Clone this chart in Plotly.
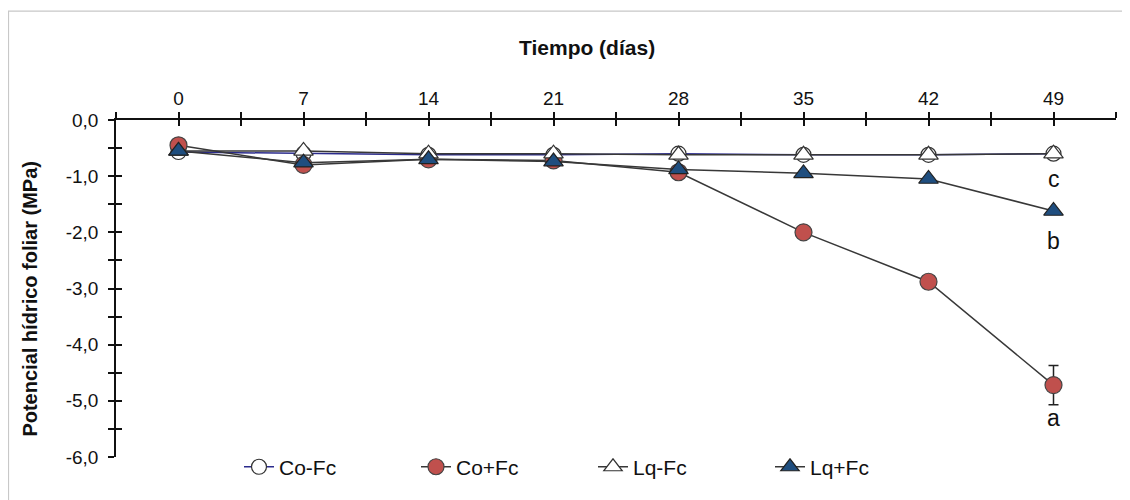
import plotly.graph_objects as go

days = [0, 7, 14, 21, 28, 35, 42, 49]
co_fc = [-0.57, -0.6, -0.62, -0.62, -0.6, -0.62, -0.62, -0.6]
co_pfc = [-0.45, -0.8, -0.7, -0.72, -0.93, -2.0, -2.88, -4.72]
co_pfc_err = [None, None, None, None, None, None, None, 0.35]
lq_fc = [-0.55, -0.55, -0.6, -0.6, -0.62, -0.62, -0.62, -0.6]
lq_pfc = [-0.55, -0.76, -0.7, -0.74, -0.88, -0.95, -1.05, -1.62]
letters = ["c", "b", "a"]
letter_y = [-1.05, -2.15, -5.3]

x_tickvals = [i * 3.5 for i in range(-1, 16)]
x_ticktext = [str(int(v)) if v >= 0 and v % 7 == 0 else "" for v in x_tickvals]
y_tickvals = [i * 0.5 for i in range(0, -13, -1)]
y_ticktext = [(f"{v:.1f}".replace(".", ",") if v % 1 == 0 else "") for v in y_tickvals]

FONT = "Liberation Sans, Arial, sans-serif"
LINE = "#383838"

fig = go.Figure()
fig.add_trace(go.Scatter(x=days, y=co_fc, name="Co-Fc", mode="lines+markers",
                         line=dict(color="#2b2b8c", width=1.5),
                         marker=dict(symbol="circle", size=15, color="white",
                                     line=dict(color="#333333", width=1.2))))
fig.add_trace(go.Scatter(x=days, y=co_pfc, name="Co+Fc", mode="lines+markers",
                         line=dict(color=LINE, width=1.5),
                         error_y=dict(type="data", array=co_pfc_err, visible=True,
                                      color="#222222", thickness=1.5, width=5),
                         marker=dict(symbol="circle", size=17, color="#c0504d",
                                     line=dict(color="#444444", width=1.2))))
fig.add_trace(go.Scatter(x=days, y=lq_fc, name="Lq-Fc", mode="lines+markers",
                         line=dict(color=LINE, width=1.5),
                         marker=dict(symbol="triangle-up", size=17, color="white",
                                     line=dict(color="#333333", width=1.2))))
fig.add_trace(go.Scatter(x=days, y=lq_pfc, name="Lq+Fc", mode="lines+markers",
                         line=dict(color=LINE, width=1.5),
                         marker=dict(symbol="triangle-up", size=17, color="#1f4e7f",
                                     line=dict(color="#222222", width=1.2))))
# invisible trace for secondary axes (inner tick halves)
fig.add_trace(go.Scatter(x=[days[0]], y=[co_fc[0]], xaxis="x2", yaxis="y2",
                         mode="markers", marker=dict(opacity=0), showlegend=False,
                         hoverinfo="skip"))

for t, yv in zip(letters, letter_y):
    fig.add_annotation(x=days[-1], y=yv, text=t, showarrow=False,
                       font=dict(family=FONT, size=23, color="#111111"))

fig.add_annotation(xref="paper", yref="paper", x=0.471, y=1.2166, xanchor="center",
                   yanchor="middle", text="<b>Tiempo (días)</b>",
                   showarrow=False, font=dict(family=FONT, size=21, color="#111111"))
fig.add_annotation(xref="paper", yref="paper", x=-0.086, y=0.47, xanchor="center",
                   yanchor="middle", text="<b>Potencial hídrico foliar (MPa)</b>",
                   textangle=-90, showarrow=False,
                   font=dict(family=FONT, size=20, color="#111111"))

fig.add_shape(type="rect", xref="paper", yref="paper", x0=-0.1075, x1=1.2, y0=-0.5, y1=1.323,
              line=dict(color="#c8c8c8", width=1.2), fillcolor="rgba(0,0,0,0)", layer="below")

axis_common = dict(showgrid=False, zeroline=False, showline=True, linecolor="#111111",
                   linewidth=1.5, tickcolor="#111111", tickwidth=1.5, ticklen=6)
fig.update_layout(
    width=1130, height=500,
    margin=dict(l=108, r=22, t=112, b=51),
    paper_bgcolor="white", plot_bgcolor="white",
    font=dict(family=FONT, size=19, color="#111111"),
    xaxis=dict(range=[-3.5, 52.5], side="top", tickmode="array", tickvals=x_tickvals,
               ticktext=x_ticktext, ticks="outside", **axis_common),
    yaxis=dict(range=[-6, 0], tickmode="array", tickvals=y_tickvals, ticktext=y_ticktext,
               ticks="outside", ticklabelstandoff=6, **axis_common),
    xaxis2=dict(range=[-3.5, 52.5], overlaying="x", side="top", anchor="y2",
                tickmode="array", tickvals=x_tickvals, ticks="inside", showticklabels=False,
                **axis_common),
    yaxis2=dict(range=[-6, 0], overlaying="y", anchor="x2", tickmode="array",
                tickvals=y_tickvals, ticks="inside", showticklabels=False, **axis_common),
    showlegend=True,
    legend=dict(orientation="h", x=0.123, xanchor="left", y=-0.03, yanchor="middle",
                entrywidth=132, font=dict(family=FONT, size=21, color="#111111"),
                bgcolor="rgba(0,0,0,0)", itemwidth=30),
)
fig.write_html("out.html")
